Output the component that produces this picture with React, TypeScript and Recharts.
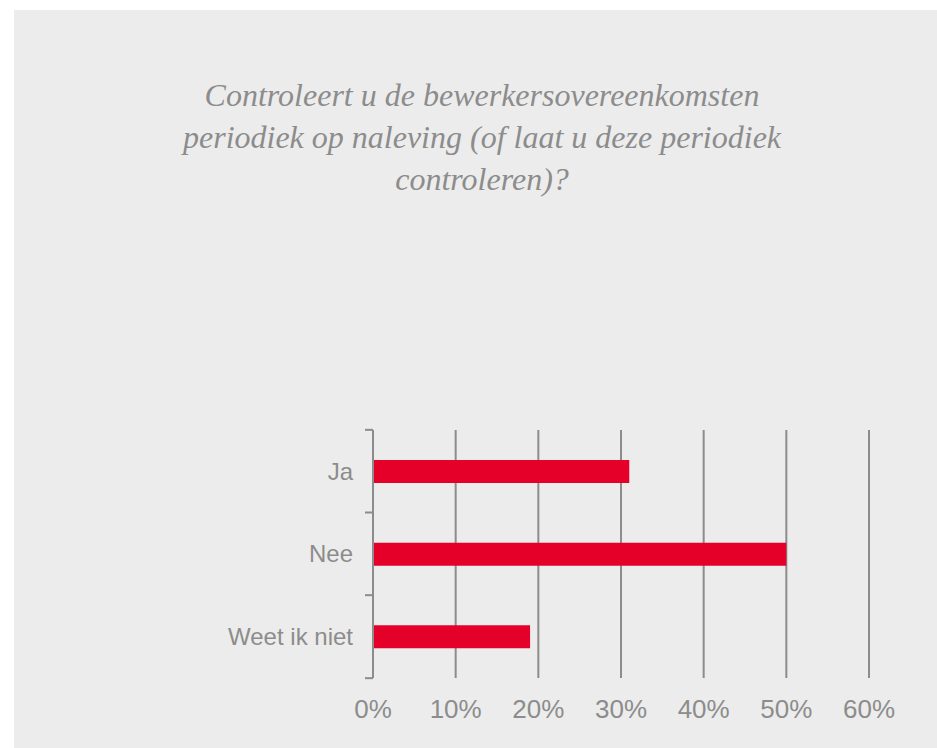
import { BarChart, Bar, XAxis, YAxis, CartesianGrid } from 'recharts';

const categories = ['Ja', 'Nee', 'Weet ik niet'];
const shares = [31, 50, 19];
const xTicks = [0, 10, 20, 30, 40, 50, 60];
const titleLines = [
  'Controleert u de bewerkersovereenkomsten',
  'periodiek op naleving (of laat u deze periodiek',
  'controleren)?',
];

const GREY = '#8c8c8c';
const RED = '#e40028';

const chartData = categories.map((name, i) => ({ name, value: shares[i] }));

// label plus tick marks at the category boundaries (not at band centres)
const CategoryTick = ({ x, y, payload, index }: any) => {
  const half = 83 / 2;
  return (
    <g>
      <line x1={x} x2={x + 8} y1={y - half} y2={y - half} stroke={GREY} strokeWidth={2} />
      {index === categories.length - 1 && (
        <line x1={x} x2={x + 8} y1={y + half} y2={y + half} stroke={GREY} strokeWidth={2} />
      )}
      <text
        x={x - 12}
        y={y}
        dy="0.35em"
        textAnchor="end"
        fill={GREY}
        fontSize={24}
        fontFamily="'Liberation Sans', Arial, sans-serif"
      >
        {payload.value}
      </text>
    </g>
  );
};

export default function App() {
  return (
    <div style={{ position: 'absolute', left: 0, top: 0, width: 937, height: 748, background: '#fff' }}>
      <div style={{ position: 'absolute', left: 14, top: 10, width: 923, height: 738, background: '#ececec' }} />
      <div
        style={{
          position: 'absolute',
          left: 132,
          top: 74,
          width: 700,
          textAlign: 'center',
          color: GREY,
          fontFamily: "'Liberation Serif', serif",
          fontStyle: 'italic',
          fontSize: 32,
          lineHeight: '42px',
        }}
      >
        {titleLines.map((l) => (
          <div key={l}>{l}</div>
        ))}
      </div>
      <div style={{ position: 'absolute', left: 0, top: 0 }}>
        <BarChart
          width={937}
          height={748}
          data={chartData}
          layout="vertical"
          margin={{ top: 430, right: 68, left: 0, bottom: 30 }}
        >
          <CartesianGrid horizontal={false} vertical stroke={GREY} strokeWidth={2} />
          <XAxis
            type="number"
            domain={[0, 60]}
            ticks={xTicks}
            tickFormatter={(v) => `${v}%`}
            axisLine={false}
            tickLine={false}
            tickMargin={16}
            height={40}
            tick={{ fill: GREY, fontSize: 26, fontFamily: "'Liberation Sans', Arial, sans-serif" }}
          />
          <YAxis
            type="category"
            dataKey="name"
            width={373}
            axisLine={{ stroke: GREY, strokeWidth: 2 }}
            tickLine={false}
            tick={<CategoryTick />}
          />
          <Bar dataKey="value" fill={RED} barSize={23} isAnimationActive={false} />
        </BarChart>
      </div>
    </div>
  );
}
